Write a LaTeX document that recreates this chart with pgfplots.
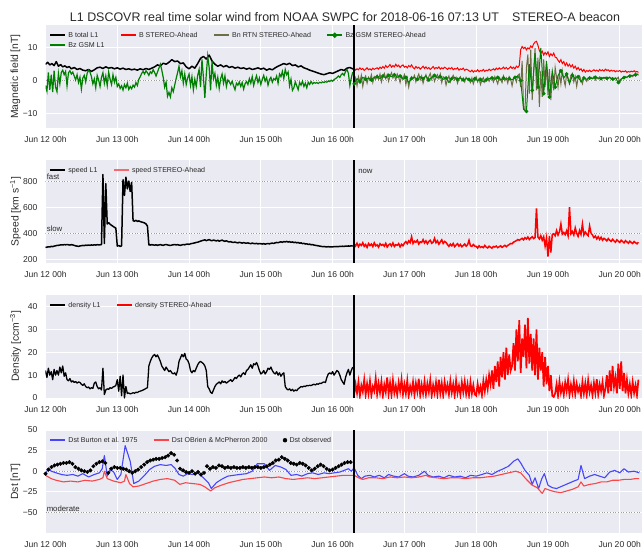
\documentclass[border=0pt]{standalone}
\usepackage{fontspec}
\setmainfont{Liberation Sans}
\usepackage{pgfplots}
\usepackage{pgfplotstable}
\pgfplotsset{compat=1.18}

\definecolor{sbbg}{HTML}{EAEAF2}
\definecolor{sbtext}{HTML}{2A2A2A}
\definecolor{mplgreen}{HTML}{008000}
\definecolor{bnolive}{HTML}{6E6E46}
\definecolor{burton}{HTML}{4646FB}
\definecolor{obrien}{HTML}{F94649}
\definecolor{refline}{HTML}{9C9C9C}

% ---------- L1 (DSCOVR) series, sampled every 0.02 d from Jun 12 00h ----------
\pgfplotstableread[row sep=\\,header=false]{
-1.5\\ -3.2\\ 2.5\\ -2.8\\ 1.8\\ -3.5\\ 3.0\\ -2.0\\ -3.4\\ 2.2\\ -1.0\\
2.5\\ 3.2\\ 1.8\\ 2.8\\ -1.6\\ 2.4\\ 3.0\\ 2.0\\ 2.6\\
1.4\\ 0.2\\ 1.8\\ -0.6\\ 1.0\\ -2.6\\ 0.8\\ 1.6\\ -0.4\\ 2.2\\
3.2\\ 2.6\\ 1.2\\ -1.0\\ 0.5\\ -2.2\\ 1.6\\ 0.2\\ -1.8\\ 1.0\\ 2.4\\ -0.8\\ 1.4\\ -1.5\\
2.6\\ 0.4\\ -1.2\\ 1.8\\ -0.5\\ 1.0\\ -1.8\\
-1.0\\ -2.4\\ -1.6\\ -2.9\\ -1.2\\ -2.2\\ -0.8\\ -2.7\\ -1.8\\ -2.5\\ -1.4\\ -2.0\\ -0.6\\ -1.5\\ 0.4\\ 1.2\\
2.2\\ 2.8\\ 2.0\\ 3.0\\ 2.4\\ 1.6\\ 2.7\\ 2.2\\ 3.3\\ 2.5\\ 1.4\\ 2.6\\
3.8\\ 5.0\\ 3.2\\ 1.0\\ -2.0\\ -0.5\\ -4.8\\ -3.6\\ -5.0\\ -2.2\\ -3.4\\ -1.4\\
0.6\\ 2.4\\ 4.4\\ 1.2\\ 3.0\\ -0.8\\ 2.0\\ -1.2\\ 0.8\\
2.0\\ -1.5\\ 1.2\\ -2.8\\ 0.4\\ -1.8\\ 1.6\\
3.4\\ -2.0\\ 6.5\\ 1.0\\ -5.3\\ 2.0\\ 7.5\\ 4.0\\ -3.0\\ 6.0\\ 0.6\\
2.2\\ -1.4\\ 1.0\\ -2.4\\ 0.6\\ 2.0\\ -0.8\\ 1.4\\ -1.8\\ 0.2\\
-0.4\\ -1.2\\ -0.2\\ -1.6\\ -2.8\\ -0.8\\ -1.4\\ -0.4\\ -1.8\\ -0.6\\ -2.6\\ -1.0\\ -0.3\\ -1.2\\
0.6\\ -0.8\\ 1.2\\ -1.5\\ 0.2\\ 1.5\\ -0.6\\ 0.8\\ -1.2\\ 0.4\\ 1.6\\ -0.2\\ 0.9\\ -1.4\\ 0.3\\ 1.0\\ -0.5\\ 0.6\\
0.2\\ 1.4\\ -0.8\\ 2.0\\ 1.2\\ 2.8\\ 0.6\\ 3.4\\ 1.8\\ 2.6\\ -1.6\\ 0.4\\ -3.0\\ -2.2\\
-0.4\\ -1.6\\ -2.8\\ -0.6\\ -1.4\\ -0.2\\ -1.8\\ -0.8\\ -2.2\\ -0.5\\ -1.2\\ -0.3\\ -1.0\\ -0.6\\
-0.8\\ -0.6\\ -0.9\\ -0.5\\ -0.7\\ -0.4\\ -0.6\\ -0.3\\ -0.5\\ -0.1\\ -0.3\\ 0.1\\ -0.2\\ 0.3\\
0.6\\ 0.9\\ 1.4\\ 1.0\\ 1.8\\ 2.2\\ 1.6\\ 2.8\\ 3.4\\ 2.2\\ -1.5\\ 0.8\\ 2.6\\
}\bzLone

\pgfplotstableread[row sep=\\,header=false]{
290\\ 292\\ 295\\ 293\\ 298\\ 296\\ 300\\ 302\\ 305\\ 306\\ 308\\ 310\\ 309\\ 311\\ 310\\ 312\\ 310\\ 308\\ 311\\ 309\\
305\\ 302\\ 300\\ 298\\ 301\\ 303\\ 305\\ 304\\ 307\\ 306\\ 308\\ 306\\ 309\\ 307\\ 310\\ 308\\ 311\\ 309\\ 310\\ 312\\
850\\ 320\\ 780\\ 470\\ 480\\ 468\\ 460\\ 452\\ 445\\ 438\\
300\\ 305\\ 298\\ 302\\
810\\ 690\\ 830\\ 740\\ 800\\ 720\\ 790\\
495\\ 492\\ 498\\ 490\\ 494\\ 488\\ 485\\ 482\\ 478\\ 470\\
455\\
310\\ 308\\ 311\\ 309\\ 307\\ 310\\ 306\\ 309\\ 311\\ 308\\ 306\\ 310\\ 312\\ 309\\ 307\\ 305\\ 308\\ 310\\ 312\\ 309\\
311\\ 308\\ 306\\ 309\\ 312\\ 310\\ 314\\ 316\\ 313\\ 318\\ 320\\ 322\\ 325\\ 328\\ 330\\ 334\\ 338\\ 342\\
345\\ 348\\ 342\\ 346\\ 350\\ 344\\ 341\\ 347\\ 343\\ 340\\ 345\\ 338\\ 342\\ 346\\ 340\\ 337\\ 341\\ 335\\
332\\ 334\\ 330\\ 328\\ 331\\ 327\\ 325\\ 329\\ 326\\ 323\\ 327\\ 324\\ 322\\ 325\\ 321\\ 319\\ 323\\ 320\\ 318\\ 321\\ 317\\ 320\\ 318\\
316\\ 319\\ 315\\ 318\\ 320\\ 317\\ 321\\ 323\\ 320\\ 325\\ 328\\ 326\\ 330\\ 333\\ 329\\ 335\\ 332\\ 336\\ 331\\ 334\\
329\\ 332\\ 327\\ 330\\ 325\\ 328\\ 322\\ 325\\ 319\\ 321\\ 316\\ 318\\ 313\\ 315\\ 310\\ 312\\ 308\\ 306\\ 304\\ 302\\
300\\ 298\\ 296\\ 297\\ 295\\ 294\\ 296\\ 293\\ 295\\ 294\\ 296\\ 295\\ 297\\ 296\\ 298\\ 297\\ 299\\ 298\\ 300\\ 299\\ 301\\ 300\\ 302\\ 300\\
}\speedLone

\pgfplotstableread[row sep=\\,header=false]{
12\\ 9\\ 13\\ 10\\ 11.5\\ 8\\ 12.5\\ 10\\
12\\ 10\\ 13.5\\ 11\\ 14\\ 9.5\\ 11\\
8\\ 7.5\\ 8.5\\ 7\\ 7.5\\ 6.8\\ 7.2\\ 6.5\\ 7\\ 6.8\\
6\\ 5.5\\ 6.2\\ 5\\ 4.5\\ 4.8\\ 4\\ 4.5\\ 4.2\\
6.5\\ 7\\ 5\\ 4\\ 4.5\\ 3.5\\
13\\ 1.5\\
3.5\\ 4\\ 3.8\\ 4.5\\ 4.2\\ 4.8\\ 5\\ 5.5\\
8\\ 3\\ 9.5\\ 1\\ 10\\ 0\\ 5\\
2\\ 2.2\\ 1.8\\ 2\\ 2.3\\ 2.1\\ 2.5\\ 2.4\\ 2.8\\ 3\\ 3.2\\ 3.5\\ 3.8\\ 4.2\\ 4.5\\
14\\ 16\\ 17.5\\ 18.5\\ 19\\ 18\\ 18.8\\ 17.5\\ 16\\
14\\ 13\\ 12\\ 13.5\\ 12.5\\ 11.5\\ 12\\ 11\\ 10.5\\ 11\\ 10\\
12\\ 16\\ 17.5\\ 19\\ 18\\ 19.5\\ 17\\ 16.5\\ 15\\ 12\\
11\\ 12\\ 11.5\\ 13\\ 14.5\\ 15.5\\ 16\\ 15.5\\
15\\ 14\\ 12\\
5\\ 4\\ 2.5\\ 2\\ 3.5\\ 5\\
6\\ 6.5\\ 7\\ 6.2\\ 7.5\\ 6.8\\ 7.2\\ 6.5\\ 7\\ 7.5\\ 8\\ 7.2\\
8\\ 9\\ 8.5\\ 9.5\\ 10\\ 9.2\\ 10.5\\ 11\\ 10.2\\ 12\\
12.5\\ 13.5\\ 14.5\\ 13\\ 15\\ 14.5\\ 15.5\\ 14\\ 12\\ 10.5\\
11\\ 12\\ 10.5\\ 11.5\\ 13\\ 12.5\\
13.5\\ 12\\ 11\\ 10.5\\ 11.5\\ 10\\ 11\\ 9.5\\ 10.5\\ 11\\
5\\ 4\\ 3.5\\ 4\\ 3.2\\ 3.8\\ 3\\ 3.5\\ 3.2\\ 4\\
4.5\\ 5\\ 4.8\\ 5.2\\ 5\\ 5.5\\ 5.3\\ 5.6\\ 5.4\\ 5.8\\ 6\\ 5.7\\ 6.2\\ 6\\ 6.5\\ 6.3\\ 6.8\\ 7\\ 6.8\\
9\\ 10.5\\ 11\\ 10.5\\ 11.5\\ 10\\ 11\\ 12\\ 11.5\\ 10\\
8\\ 7\\ 6\\ 9\\ 11\\ 12.5\\ 10\\ 12\\ 13.5\\
}\densLone

% ---------- STEREO-Ahead series, sampled every 0.02 d from Jun 16 07h ----------
\pgfplotstableread[row sep=\\,header=false]{
3.8\\ 3.2\\ 3.6\\ 3.3\\ 3.9\\ 3.4\\ 3.7\\ 3.1\\ 3.5\\ 3.9\\ 3.3\\ 3.6\\ 3.2\\ 3.8\\ 3.4\\ 3.7\\
3.9\\ 3.5\\ 4.1\\ 3.7\\ 4.3\\ 3.8\\ 4.6\\ 4.0\\ 4.4\\ 4.9\\ 4.1\\ 4.6\\ 4.2\\ 5.0\\ 4.3\\ 4.7\\ 4.0\\ 4.5\\ 4.8\\ 4.1\\ 4.4\\ 3.9\\ 4.6\\ 4.2\\ 4.8\\
4.0\\ 3.6\\ 4.3\\ 3.8\\ 4.1\\ 3.5\\ 3.9\\ 4.4\\ 3.7\\ 4.2\\ 3.6\\ 4.0\\ 3.4\\ 3.8\\ 4.3\\ 3.6\\ 4.0\\ 3.7\\ 4.2\\ 3.5\\
3.9\\ 3.6\\ 4.1\\ 3.8\\ 3.4\\ 3.9\\ 3.6\\ 4.0\\ 3.3\\ 3.7\\ 3.5\\ 3.9\\ 3.2\\ 3.6\\ 3.4\\ 3.8\\ 3.1\\ 3.5\\ 3.3\\
3.0\\ 2.7\\ 3.2\\ 2.6\\ 3.0\\ 2.8\\ 3.3\\ 2.7\\ 3.1\\ 2.9\\ 3.4\\ 2.8\\ 3.2\\ 3.0\\ 3.5\\ 3.1\\
3.3\\ 3.6\\ 3.2\\ 3.8\\ 3.4\\ 3.9\\ 3.5\\ 3.7\\ 4.1\\ 3.6\\ 4.0\\ 3.5\\ 3.8\\ 4.3\\ 3.7\\ 4.1\\ 3.6\\ 4.4\\ 4.0\\ 4.6\\
9.5\\ 10.4\\ 9.8\\ 10.2\\ 9.4\\ 10.0\\ 9.7\\ 10.6\\ 10.1\\ 11.2\\ 11.8\\ 12.0\\ 10.8\\
9.2\\ 8.4\\ 9.0\\ 7.8\\ 8.6\\ 8.0\\ 8.8\\ 7.4\\ 8.2\\ 7.6\\ 8.4\\ 7.2\\
7.0\\ 6.2\\ 5.6\\ 6.4\\ 5.2\\ 5.8\\ 4.6\\ 5.4\\ 4.4\\ 5.0\\
4.2\\ 4.8\\ 3.8\\ 4.4\\ 3.4\\ 4.0\\ 3.2\\ 3.6\\ 2.8\\ 3.4\\ 2.6\\ 3.1\\
2.8\\ 3.2\\ 2.7\\ 3.0\\ 3.3\\ 2.9\\ 3.2\\ 2.8\\ 3.4\\ 3.0\\ 3.3\\ 2.9\\ 3.5\\ 3.1\\ 3.3\\ 2.8\\ 3.2\\ 2.9\\ 3.1\\ 2.7\\
3.0\\ 2.8\\ 3.1\\ 2.6\\ 2.9\\ 2.7\\ 3.0\\ 2.5\\ 2.8\\ 2.6\\ 2.9\\ 2.7\\ 3.0\\ 2.6\\ 2.8\\ 2.5\\
}\btSta

\pgfplotstableread[row sep=\\,header=false]{
-1.0\\ 0.8\\ -1.6\\ 1.2\\ -0.4\\ 1.6\\ -1.8\\ 0.6\\ 1.4\\ -0.8\\ 1.0\\ 0.2\\ 1.8\\ -0.6\\ 1.2\\ 0.4\\
1.6\\ 0.4\\ 2.0\\ -0.4\\ 1.2\\ 2.2\\ 0.6\\ 1.8\\ -0.2\\ 1.4\\ 2.4\\ 0.8\\ 1.6\\ 0.2\\ 2.0\\ 1.0\\ -0.6\\ 1.4\\ 0.6\\ 1.8\\ -1.2\\ 0.8\\ -2.0\\ 0.4\\ 1.2\\
0.6\\ 1.6\\ -0.4\\ 1.0\\ 2.0\\ 0.2\\ 1.4\\ -0.8\\ 0.8\\ 1.8\\ 0.0\\ 1.2\\ 2.2\\ 0.4\\ 1.6\\ -0.2\\ 1.0\\ 1.8\\ 0.6\\ 2.0\\
-0.6\\ 1.2\\ 0.8\\ -1.4\\ 0.4\\ 1.4\\ -0.4\\ 0.8\\ 1.6\\ 0.2\\ 1.0\\ -0.8\\ 0.6\\ 1.2\\ 0.0\\ 0.8\\ -0.4\\ 1.0\\ 0.4\\
0.2\\ -0.6\\ 0.8\\ -1.0\\ 0.4\\ 1.2\\ -0.4\\ 0.6\\ -1.2\\ 0.2\\ 0.9\\ -0.5\\ 0.4\\ 1.0\\ -0.2\\ 0.6\\
0.8\\ -0.4\\ 1.2\\ 0.2\\ -1.0\\ 1.0\\ 0.4\\ -0.6\\ 1.4\\ 0.0\\ 0.8\\ -0.8\\ 1.2\\ 0.4\\ -1.6\\ 0.6\\ 1.0\\ -0.4\\ 1.6\\ 2.0\\
-2.0\\ 6.0\\ -8.5\\ -9.2\\ 4.0\\ 8.0\\ -4.0\\ 9.5\\ -6.0\\ 2.0\\ 10.0\\ -3.0\\ 7.0\\ -8.0\\ 3.0\\ -5.0\\ 6.5\\ -2.0\\ 5.0\\ -4.5\\ 3.5\\ -6.0\\ 2.0\\ -3.0\\ 4.0\\
1.0\\ -2.0\\ 2.4\\ -1.0\\ 3.0\\ 0.4\\ -1.6\\ 2.0\\ 0.8\\ -0.8\\ 1.6\\ 2.2\\ -0.4\\ 1.2\\ -1.8\\ 0.8\\ 1.4\\ 0.2\\ -1.0\\ 1.0\\ 0.6\\ -0.2\\
0.8\\ 0.4\\ 1.0\\ 0.6\\ 1.2\\ 0.2\\ 0.9\\ 0.5\\ 1.1\\ 0.3\\ 0.8\\ 0.6\\ 1.0\\ 0.4\\ 0.7\\ 1.1\\ 0.5\\ 0.9\\ 0.3\\ 0.8\\
0.6\\ 1.0\\ -0.6\\ 0.4\\ 0.8\\ 1.0\\ 1.2\\ 0.9\\ 1.4\\ 1.1\\ 1.6\\ 1.2\\ 1.8\\ 1.4\\ 2.0\\ 1.6\\
}\bnSta

\pgfplotstableread[row sep=\\,header=false]{
318\\ 300\\ 322\\ 295\\ 315\\ 305\\ 326\\ 298\\ 312\\ 290\\ 320\\ 304\\ 316\\ 296\\ 325\\ 302\\ 310\\ 292\\ 318\\ 306\\
313\\ 299\\ 321\\ 293\\ 309\\ 317\\ 300\\ 324\\ 297\\ 311\\ 306\\ 319\\ 294\\ 314\\ 303\\
322\\ 335\\ 318\\ 340\\ 326\\ 372\\ 320\\ 338\\ 330\\ 345\\ 316\\ 333\\ 328\\ 350\\ 324\\ 340\\ 318\\ 336\\ 345\\ 322\\
330\\ 360\\ 326\\ 341\\ 315\\ 332\\ 348\\ 320\\ 336\\ 328\\
312\\ 298\\ 315\\ 302\\ 320\\ 296\\ 308\\ 318\\ 300\\ 313\\ 295\\ 305\\ 316\\ 299\\ 310\\ 345\\ 302\\ 298\\ 312\\ 300\\
298\\ 285\\ 302\\ 290\\ 296\\ 288\\ 305\\ 292\\ 286\\ 299\\ 291\\ 284\\ 297\\ 293\\ 300\\ 288\\ 295\\ 302\\ 290\\ 298\\ 306\\ 295\\
305\\ 312\\ 320\\ 318\\ 330\\ 336\\ 342\\ 350\\ 345\\ 352\\
360\\ 348\\ 365\\ 355\\ 370\\ 350\\ 362\\ 372\\ 358\\ 366\\ 590\\
370\\ 355\\ 380\\ 345\\ 372\\ 300\\ 365\\ 220\\ 378\\ 250\\ 390\\
395\\ 380\\ 420\\ 385\\ 410\\ 470\\ 392\\ 405\\ 388\\ 418\\ 380\\ 600\\ 395\\ 412\\ 385\\ 440\\ 398\\ 375\\ 420\\ 390\\
470\\ 385\\ 408\\ 392\\ 380\\ 455\\ 400\\
385\\ 365\\ 378\\ 355\\ 372\\ 350\\ 368\\ 345\\ 360\\ 352\\ 340\\ 358\\ 345\\ 336\\ 352\\ 340\\ 330\\ 348\\ 338\\ 328\\
345\\ 335\\ 325\\ 342\\ 332\\ 322\\ 338\\ 328\\ 320\\ 335\\ 326\\ 318\\ 330\\
}\speedSta

\pgfplotstableread[row sep=\\,header=false]{
1.5\\ 6.0\\ 2.2\\ 7.0\\ 1.0\\ 5.5\\ 2.8\\ 8.0\\ 1.4\\ 6.2\\
2.0\\ 7.4\\ 1.2\\ 5.0\\ 3.0\\ 8.6\\ 1.6\\ 6.4\\ 2.4\\ 7.2\\
1.0\\ 5.8\\ 2.6\\ 9.0\\ 1.8\\ 6.6\\ 1.2\\ 7.8\\ 2.2\\ 5.4\\
1.4\\ 6.8\\ 3.0\\ 8.2\\ 1.6\\ 6.0\\ 2.0\\ 7.6\\ 1.0\\ 5.2\\
2.4\\ 7.0\\ 1.4\\ 6.4\\ 2.8\\ 8.4\\ 1.2\\ 5.8\\ 2.0\\ 7.2\\
1.6\\ 6.2\\ 2.6\\ 7.8\\ 1.0\\ 5.6\\ 2.2\\ 6.8\\ 1.4\\ 8.0\\
2.0\\ 6.4\\ 1.2\\ 7.0\\ 2.8\\ 5.8\\ 1.6\\ 7.4\\ 2.4\\ 6.0\\
1.0\\ 7.6\\ 2.2\\ 5.4\\ 1.4\\ 6.8\\ 2.6\\ 7.2\\ 1.8\\ 6.0\\
1.2\\ 7.0\\ 2.0\\ 5.6\\ 1.6\\
1.0\\ 6.2\\ 2.4\\ 5.0\\ 1.2\\ 7.4\\ 3.0\\ 8.0\\ 4.0\\ 10.0\\
6.0\\ 12.0\\ 4.0\\ 14.0\\ 7.0\\ 16.0\\ 5.0\\ 18.0\\ 9.0\\ 20.0\\ 8.0\\ 22.0\\ 10.0\\ 19.0\\ 12.0\\
14.0\\ 24.0\\ 12.0\\ 30.0\\ 16.0\\ 34.0\\ 11.0\\ 26.0\\ 18.0\\ 32.0\\ 13.0\\ 35.0\\ 15.0\\ 28.0\\ 12.0\\
26.0\\ 10.0\\ 30.0\\ 8.0\\ 22.0\\ 12.0\\ 20.0\\ 5.0\\ 18.0\\ 6.0\\ 14.0\\ 3.0\\ 10.0\\ 1.0\\ 0.5\\
2.0\\ 6.0\\ 1.0\\ 7.2\\ 2.4\\ 5.4\\ 1.4\\ 6.8\\ 3.0\\ 8.0\\
1.2\\ 5.8\\ 2.2\\ 7.4\\ 1.6\\ 6.2\\ 2.8\\ 5.0\\ 1.0\\ 7.0\\
2.0\\ 6.4\\ 1.4\\ 7.8\\ 2.6\\ 5.6\\ 1.2\\ 6.6\\ 2.2\\ 8.2\\
1.6\\ 6.0\\ 3.0\\ 7.0\\ 1.0\\
4.0\\ 10.0\\ 2.0\\ 12.0\\ 3.0\\ 14.0\\ 5.0\\ 9.0\\ 2.0\\ 15.0\\ 4.0\\ 16.0\\ 3.0\\ 11.0\\ 2.0\\ 8.0\\
2.0\\ 6.0\\ 1.4\\ 7.0\\ 2.2\\ 5.6\\ 1.2\\ 8.0\\
}\densSta

% Bz GSM STEREO-Ahead, every 0.04 d from Jun 16 07h
\pgfplotstableread[row sep=\\,header=false]{
-1.0\\ 0.6\\ -0.4\\ 1.0\\ 0.4\\ 0.8\\ 0.2\\ 1.0\\
1.2\\ 0.6\\ 1.4\\ 0.8\\ 1.6\\ 1.2\\ 1.8\\ 1.0\\ 1.4\\ 0.4\\ 1.0\\ -0.6\\ 0.6\\
1.0\\ 0.4\\ 1.2\\ 0.6\\ 1.4\\ 0.2\\ 1.0\\ 1.6\\ 0.8\\ 1.2\\ 0.4\\ 0.8\\ -0.6\\ 0.6\\ 1.0\\ 0.4\\ 0.8\\ 0.2\\ 0.6\\
0.4\\ -0.2\\ 0.6\\ 0.0\\ 0.4\\ -0.4\\ 0.2\\ 0.6\\
0.8\\ 0.4\\ 1.0\\ 0.2\\ 0.8\\ 0.4\\ 0.6\\ 0.2\\ 1.0\\ 1.4\\
0.0\\ -8.8\\ -9.4\\ 5.0\\ -3.0\\ 8.5\\ -2.0\\ 10.0\\ -4.0\\ 6.0\\ -5.0\\ 3.0\\
-2.0\\ 1.5\\ 3.0\\ 0.8\\ 2.0\\ -1.0\\ 1.6\\ 0.6\\ 1.2\\ -0.4\\ 0.8\\
0.4\\ 0.8\\ 0.6\\ 1.0\\ 0.8\\ 0.6\\ 1.0\\ 0.7\\ 0.9\\ 0.5\\ 0.8\\ -0.6\\ 0.5\\ 0.9\\ 1.1\\ 1.4\\ 1.6\\ 1.8\\ 2.0\\
}\bzSta

% observed Dst, hourly from Jun 12 00h
\pgfplotstableread[row sep=\\,header=false]{
-3\\ 2\\ 5\\ 7\\ 8\\ 9\\ 10\\ 10\\ 11\\ 9\\ 5\\ 3\\ 1\\ 0\\ -1\\ 1\\ 6\\ 9\\ 11\\ 12\\
10\\ -2\\ 3\\ 5\\ 4\\ 4\\ 3\\ 2\\ 0\\ -2\\ 0\\ 2\\ 5\\ 8\\ 11\\ 13\\ 14\\ 15\\ 15\\ 16\\
17\\ 19\\ 22\\ 20\\ 13\\ 3\\ 1\\ -1\\ -2\\ 0\\ -3\\ -1\\ -4\\ -2\\ 6\\ 3\\ 5\\ 4\\ 7\\ 6\\
4\\ 5\\ 4\\ 5\\ 4\\ 4\\ 5\\ 4\\ 5\\ 4\\ 5\\ 5\\ 4\\ 5\\ 6\\ 8\\ 10\\ 13\\ 14\\ 17\\
15\\ 13\\ 10\\ 9\\ 8\\ 10\\ 9\\ 7\\ 4\\ 1\\ 3\\ 6\\ 8\\ 6\\ 3\\ 1\\ 2\\ 4\\ 6\\ 8\\
10\\ 11\\ 11\\
}\dstObs

\tikzset{tag/.style={font=\fontsize{7.8}{9}\selectfont, text=sbtext, inner sep=0pt}}

\pgfplotsset{
  panel/.style={
    scale only axis, width=596.5bp, height=103bp,
    xmin=0, xmax=8.31,
    axis background/.style={fill=sbbg},
    axis line style={draw=none},
    tick style={draw=none},
    grid=major,
    major grid style={white, line width=1bp},
    xtick={0,1,2,3,4,5,6,7,8},
    xticklabels={Jun 12 00h,Jun 13 00h,Jun 14 00h,Jun 15 00h,Jun 16 00h,Jun 17 00h,Jun 18 00h,Jun 19 00h,Jun 20 00h},
    tick label style={font=\fontsize{8.6}{10}\selectfont, text=sbtext},
    xticklabel style={yshift=-4.3bp},
    yticklabel style={xshift=-4.5bp},
    every axis y label/.style={at={(axis description cs:-0.0503,0.5)}, rotate=90, anchor=center,
      font=\fontsize{10.4}{12}\selectfont, text=sbtext},
    legend cell align=left,
    legend style={draw=none, fill=none, inner xsep=0pt, inner ysep=0pt,
      at={(0,1)}, anchor=north west, xshift=3.7bp, yshift=-5bp,
      font=\fontsize{7.1}{8.5}\selectfont, text=sbtext,
      nodes={inner sep=2.5bp, text height=4.6bp, text depth=0.4bp},
      /tikz/every even column/.append style={column sep=13bp}},
    legend image code/.code={\draw[mark repeat=2,mark phase=2,#1]
      plot coordinates {(0bp,0bp) (7.5bp,0bp) (15bp,0bp)};},
  },
  refdots/.style={forget plot, refline, line width=0.9bp, dash pattern=on 1bp off 1.7bp},
  nowline/.style={forget plot, black, line width=1.5bp},
}

\begin{document}
\begin{tikzpicture}
\useasboundingbox (0bp,0bp) rectangle (642bp,-548bp);

\node[anchor=base, font=\fontsize{12.5}{15}\selectfont, text=sbtext] at (345bp,-21bp)
  {L1 DSCOVR real time solar wind from NOAA SWPC for 2018-06-16 07:13 UT\hspace{13bp}STEREO-A beacon};

% ---------------- magnetic field ----------------
\begin{axis}[panel, at={(45.5bp,-25bp)}, anchor=north west,
  ymin=-14.5, ymax=17, ytick={-10,0,10}, yticklabels={−10,0,10},
  ylabel={Magnetic field [nT]}, legend columns=4]
\addplot[refdots] coordinates {(0,0) (8.31,0)};
\addplot[forget plot, black, line width=1.5bp, line join=round] coordinates {
(0.00,5.0)(0.03,5.6)(0.06,4.8)(0.09,5.2)(0.12,4.6)(0.15,5.8)(0.18,4.4)(0.21,4.9)(0.24,4.2)(0.27,4.5)
(0.30,4.0)(0.33,4.3)(0.36,3.6)(0.40,4.0)(0.44,3.4)(0.48,3.7)(0.52,3.2)(0.56,3.0)(0.60,3.4)(0.64,2.8)
(0.68,3.3)(0.72,3.9)(0.76,4.1)(0.80,3.7)(0.84,4.2)(0.88,3.8)(0.92,4.0)(0.96,3.6)(1.00,3.9)(1.04,3.5)
(1.08,3.8)(1.12,3.4)(1.16,3.6)(1.20,3.3)(1.24,3.5)(1.28,3.2)(1.32,3.6)(1.36,3.3)(1.40,3.7)(1.44,3.4)
(1.48,3.8)(1.52,4.2)(1.56,4.8)(1.60,4.5)(1.64,5.3)(1.68,5.0)(1.72,5.6)(1.76,6.4)(1.80,5.8)(1.84,6.0)
(1.88,5.2)(1.92,5.4)(1.96,4.2)(2.00,3.6)(2.04,4.4)(2.08,3.8)(2.12,5.2)(2.16,6.8)(2.20,7.4)(2.24,6.6)
(2.28,7.8)(2.32,6.0)(2.36,5.0)(2.40,4.4)(2.44,4.8)(2.48,4.2)(2.52,4.6)(2.56,4.0)(2.60,4.3)(2.64,3.8)
(2.68,4.1)(2.72,3.7)(2.76,3.9)(2.80,3.5)(2.84,3.8)(2.88,3.4)(2.92,3.6)(2.96,3.9)(3.00,3.5)(3.04,3.8)
(3.08,3.2)(3.12,3.6)(3.16,3.3)(3.20,3.9)(3.24,4.4)(3.28,4.8)(3.32,5.2)(3.36,4.9)(3.40,5.3)(3.44,4.6)
(3.48,4.8)(3.52,4.2)(3.56,4.5)(3.60,3.9)(3.64,3.6)(3.68,3.2)(3.72,2.9)(3.76,2.6)(3.80,2.3)(3.84,2.0)
(3.88,1.8)(3.92,2.1)(3.96,2.4)(4.00,2.2)(4.04,2.6)(4.08,3.0)(4.12,3.4)(4.16,3.1)(4.20,3.8)(4.24,4.0)
(4.28,3.6)(4.30,3.7)};
\addplot[forget plot, mplgreen, line width=1.2bp] table[x expr={0.02*\coordindex}, y index=0] {\bzLone};
\addplot[forget plot, red, line width=1bp] table[x expr={4.30+0.02*\coordindex}, y index=0] {\btSta};
\addplot[forget plot, bnolive, line width=1bp] table[x expr={4.30+0.02*\coordindex}, y index=0] {\bnSta};
\addplot[forget plot, mplgreen, line width=1bp, mark=*, mark size=1.3bp, mark repeat=2]
  table[x expr={4.30+0.04*\coordindex}, y index=0] {\bzSta};
\addplot[nowline] coordinates {(4.30,-14.5) (4.30,17)};
\addlegendimage{black, line width=1.5bp}
\addlegendentry{B total L1}
\addlegendimage{red, line width=1.5bp}
\addlegendentry{B STEREO-Ahead}
\addlegendimage{bnolive, line width=1.5bp}
\addlegendentry{Bn RTN STEREO-Ahead}
\addlegendimage{mplgreen, line width=1.5bp, mark=*, mark size=1.8bp}
\addlegendentry{Bz GSM STEREO-Ahead}
\addlegendimage{mplgreen, line width=1.5bp}
\addlegendentry{Bz GSM L1}
\end{axis}

% ---------------- speed ----------------
\begin{axis}[panel, at={(45.5bp,-160bp)}, anchor=north west,
  ymin=170, ymax=962, ytick={200,400,600,800}, yticklabels={200,400,600,800},
  ylabel={Speed [km s\textsuperscript{−1}]}, legend columns=2]
\addplot[refdots] coordinates {(0,800) (8.31,800)};
\addplot[refdots] coordinates {(0,400) (8.31,400)};
\addplot[forget plot, black, line width=1.5bp, line join=round] table[x expr={0.02*\coordindex}, y index=0] {\speedLone};
\addplot[forget plot, red, line width=1.5bp] table[x expr={4.30+0.02*\coordindex}, y index=0] {\speedSta};
\addplot[nowline] coordinates {(4.30,170) (4.30,962)};
\node[tag, anchor=base west] at (axis cs:0.015,812) {fast};
\node[tag, anchor=base west] at (axis cs:0.015,412) {slow};
\node[tag, anchor=west] at (axis cs:4.355,874) {now};
\addlegendimage{black, line width=1.5bp}
\addlegendentry{speed L1}
\addlegendimage{red!55!sbbg, line width=1.5bp}
\addlegendentry{speed STEREO-Ahead}
\end{axis}

% ---------------- density ----------------
\begin{axis}[panel, at={(45.5bp,-295bp)}, anchor=north west,
  ymin=0, ymax=45, ytick={0,10,20,30,40}, yticklabels={0,10,20,30,40},
  ylabel={Density [ccm\textsuperscript{−3}]}, legend columns=2]
\addplot[forget plot, black, line width=1.3bp, line join=round] table[x expr={0.02*\coordindex}, y index=0] {\densLone};
\addplot[forget plot, red, line width=1.7bp] table[x expr={4.30+0.02*\coordindex}, y index=0] {\densSta};
\addplot[nowline] coordinates {(4.30,0) (4.30,45)};
\addlegendimage{black, line width=1.5bp}
\addlegendentry{density L1}
\addlegendimage{red, line width=1.5bp}
\addlegendentry{density STEREO-Ahead}
\end{axis}

% ---------------- Dst ----------------
\begin{axis}[panel, at={(45.5bp,-430bp)}, anchor=north west,
  ymin=-75, ymax=50, ytick={-50,-25,0,25,50}, yticklabels={−50,−25,0,25,50},
  ylabel={Dst [nT]}, legend columns=3]
\addplot[refdots] coordinates {(0,0) (8.31,0)};
\addplot[refdots] coordinates {(0,-50) (8.31,-50)};
\addplot[forget plot, burton, line width=1.1bp, line join=round] coordinates {
(0.00,-3)(0.04,3)(0.08,0)(0.15,-2)(0.22,-4)(0.30,-5)(0.38,-4)(0.45,-6)(0.52,-3)(0.60,-7)
(0.68,-4)(0.75,-2)(0.79,3)(0.82,19)(0.86,-6)(0.90,2)(0.95,-1)(1.00,-10)(1.05,-4)(1.11,31)
(1.18,12)(1.23,-15)(1.30,-12)(1.38,-5)(1.45,2)(1.52,6)(1.60,8)(1.68,7)(1.75,8)(1.80,4)
(1.86,-4)(1.92,-6)(1.98,-3)(2.05,-4)(2.12,-2)(2.20,-8)(2.27,-14)(2.31,-21)(2.38,-14)(2.45,-10)
(2.54,-6)(2.62,-5)(2.70,-4)(2.80,-3)(2.88,0)(2.95,9)(3.05,9)(3.12,1)(3.20,7)(3.28,5)
(3.35,2)(3.42,-5)(3.50,-4)(3.57,-6)(3.65,-3)(3.72,-2)(3.80,-4)(3.88,-2)(3.95,-3)(4.02,-2)
(4.10,-1)(4.16,1)(4.22,3)(4.26,0)(4.30,4)(4.35,-5)(4.40,-9)(4.45,-6)(4.52,-5)(4.58,-7)
(4.65,-5)(4.72,-8)(4.78,-4)(4.85,-6)(4.92,-7)(5.00,-3)(5.05,-6)(5.12,-7)(5.20,-5)(5.28,0)
(5.33,-5)(5.40,-7)(5.48,-6)(5.55,-8)(5.62,-5)(5.70,-7)(5.78,-6)(5.85,-8)(5.92,-5)(6.00,-6)
(6.08,-4)(6.15,-2)(6.22,-4)(6.30,0)(6.38,3)(6.45,6)(6.52,12)(6.58,15)(6.62,10)(6.68,1)
(6.74,-5)(6.78,-16)(6.82,-8)(6.87,-21)(6.91,-10)(6.95,-3)(7.00,-17)(7.06,-20)(7.12,-21)(7.20,-18)
(7.28,-15)(7.36,-12)(7.42,-10)(7.46,7)(7.51,-9)(7.58,-6)(7.65,-4)(7.72,-6)(7.79,-8)(7.86,-1)
(7.93,1)(8.00,-2)(8.06,3)(8.12,-1)(8.20,0)(8.27,-2)};
\addplot[forget plot, obrien, line width=1.1bp, line join=round] coordinates {
(0.00,-5)(0.08,-9)(0.15,-11)(0.25,-13)(0.35,-12)(0.45,-13)(0.55,-11)(0.65,-12)(0.75,-10)(0.80,-8)
(0.82,0)(0.86,-9)(0.95,-12)(1.05,-14)(1.10,-12)(1.12,-4)(1.17,-15)(1.22,-19)(1.30,-18)(1.40,-15)
(1.50,-12)(1.60,-10)(1.70,-9)(1.80,-11)(1.87,-16)(1.95,-14)(2.05,-15)(2.15,-16)(2.22,-19)(2.30,-24)
(2.36,-20)(2.45,-17)(2.55,-14)(2.65,-12)(2.75,-10)(2.85,-9)(2.95,-8)(3.05,-7)(3.15,-8)(3.25,-7)
(3.35,-9)(3.45,-10)(3.55,-9)(3.65,-8)(3.75,-9)(3.85,-8)(3.95,-7)(4.05,-6)(4.15,-5)(4.22,-5)
(4.30,-5)(4.36,-8)(4.42,-10)(4.50,-8)(4.60,-8)(4.70,-9)(4.80,-7)(4.90,-8)(5.00,-7)(5.10,-8)
(5.20,-7)(5.30,-5)(5.35,-7)(5.45,-8)(5.55,-9)(5.65,-8)(5.75,-8)(5.85,-9)(5.95,-8)(6.05,-8)
(6.15,-7)(6.25,-6)(6.35,-4)(6.45,-2)(6.55,0)(6.62,-2)(6.70,-10)(6.78,-17)(6.85,-20)(6.92,-27)
(6.96,-21)(7.02,-23)(7.10,-25)(7.18,-26)(7.26,-24)(7.34,-22)(7.42,-19)(7.46,-13)(7.50,-18)(7.58,-16)
(7.66,-15)(7.74,-13)(7.82,-13)(7.90,-11)(7.98,-11)(8.06,-10)(8.14,-10)(8.22,-9)(8.27,-9)};
\addplot[forget plot, only marks, mark=*, black, mark size=1.8bp]
  table[x expr={\coordindex/24}, y index=0] {\dstObs};
\addplot[nowline] coordinates {(4.30,-75) (4.30,50)};
\node[tag, anchor=base west] at (axis cs:0.015,-48.5) {moderate};
\addlegendimage{burton, line width=1.5bp}
\addlegendentry{Dst Burton et al. 1975}
\addlegendimage{obrien, line width=1.5bp}
\addlegendentry{Dst OBrien \& McPherron 2000}
\addlegendimage{only marks, mark=*, black, mark size=2bp}
\addlegendentry{Dst observed}
\end{axis}
\end{tikzpicture}
\end{document}
